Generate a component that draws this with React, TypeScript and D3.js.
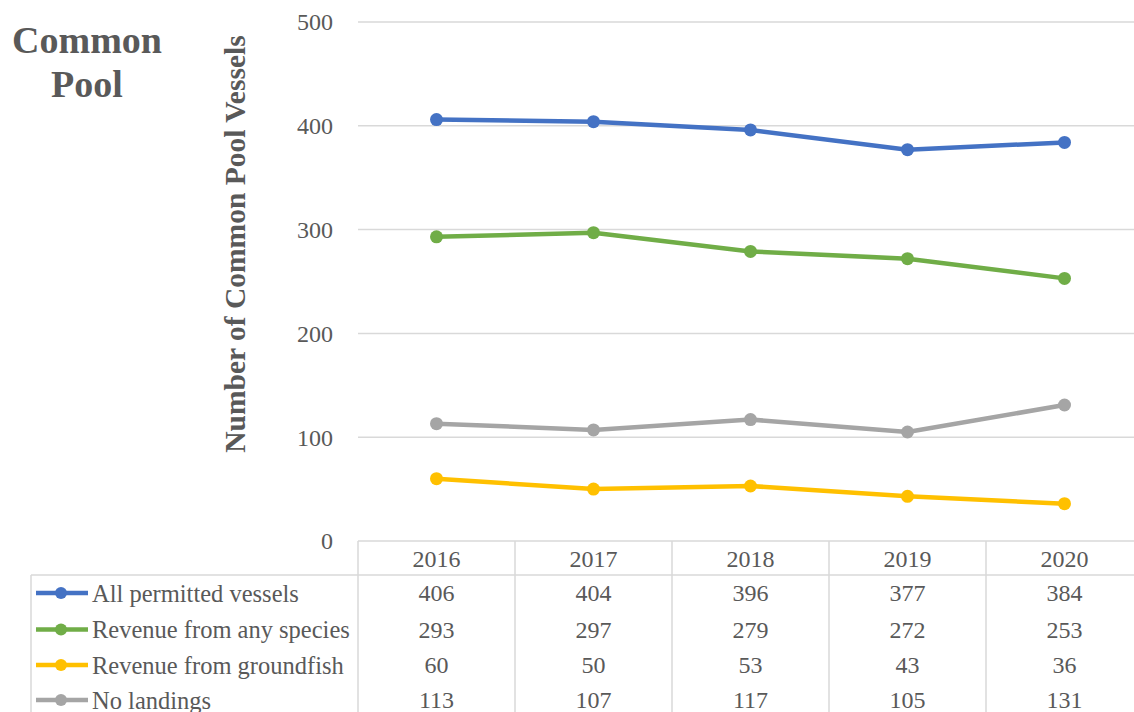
import React from "react";
import * as d3 from "d3";

const years = ["2016", "2017", "2018", "2019", "2020"];
const seriesNames = [
  "All permitted vessels",
  "Revenue from any species",
  "Revenue from groundfish",
  "No landings",
];
const allPermitted = [406, 404, 396, 377, 384];
const revenueAny = [293, 297, 279, 272, 253];
const revenueGroundfish = [60, 50, 53, 43, 36];
const noLandings = [113, 107, 117, 105, 131];
const seriesColors = ["#4472C4", "#70AD47", "#FFC000", "#A5A5A5"];
const yTicks = [0, 100, 200, 300, 400, 500];

const W = 1134;
const H = 712;
const FONT = "'Liberation Serif', 'Times New Roman', serif";
const TEXT = "#595959";
const GRID = "#d9d9d9";

export default function App() {
  const series = [allPermitted, revenueAny, revenueGroundfish, noLandings];
  const x = d3.scaleBand<string>().domain(years).range([358, 1143]).padding(0);
  const cx = (yr: string) => (x(yr) as number) + x.bandwidth() / 2;
  const y = d3.scaleLinear().domain([0, 500]).range([541, 22]);
  const line = d3
    .line<number>()
    .x((_, i) => cx(years[i]))
    .y((d) => y(d));

  const headerTop = y(0);
  const rowTop = 575;
  const headerMid = (headerTop + rowTop) / 2 + 1;
  const rowMids = [593, 629.5, 665, 700];

  return (
    <svg
      width={W}
      height={H}
      style={{ position: "absolute", left: 0, top: 0, background: "#fff" }}
      fontFamily={FONT}
    >
      {/* panel title */}
      <text x={87} y={53} textAnchor="middle" fontSize={38} fontWeight="bold" fill={TEXT}>
        Common
      </text>
      <text x={87} y={97} textAnchor="middle" fontSize={38} fontWeight="bold" fill={TEXT}>
        Pool
      </text>

      {/* y axis title */}
      <text
        transform={`translate(245, 244) rotate(-90)`}
        textAnchor="middle"
        fontSize={29.5}
        fontWeight="bold"
        fill={TEXT}
      >
        Number of Common  Pool Vessels
      </text>

      {/* gridlines and tick labels */}
      {yTicks.map((t) => (
        <g key={t}>
          {t > 0 && (
            <line x1={358} x2={W} y1={y(t)} y2={y(t)} stroke={GRID} strokeWidth={1.5} />
          )}
          <text
            x={333}
            y={y(t)}
            dy="0.35em"
            textAnchor="end"
            fontSize={24}
            fill={TEXT}
          >
            {t}
          </text>
        </g>
      ))}

      {/* data table grid */}
      <line x1={358} x2={W} y1={headerTop} y2={headerTop} stroke={GRID} strokeWidth={1.5} />
      <line x1={31} x2={W} y1={rowTop} y2={rowTop} stroke={GRID} strokeWidth={1.5} />
      <line x1={31} x2={31} y1={rowTop} y2={H} stroke={GRID} strokeWidth={1.5} />
      {years.map((yr) => (
        <line
          key={yr}
          x1={x(yr) as number}
          x2={x(yr) as number}
          y1={headerTop}
          y2={H}
          stroke={GRID}
          strokeWidth={1.5}
        />
      ))}
      {years.map((yr) => (
        <text
          key={yr}
          x={cx(yr)}
          y={headerMid}
          dy="0.35em"
          textAnchor="middle"
          fontSize={24}
          fill={TEXT}
        >
          {yr}
        </text>
      ))}

      {/* table rows: legend key, name and values */}
      {series.map((vals, si) => (
        <g key={si}>
          <line
            x1={36}
            x2={88}
            y1={rowMids[si]}
            y2={rowMids[si]}
            stroke={seriesColors[si]}
            strokeWidth={4.5}
          />
          <circle cx={61} cy={rowMids[si]} r={6} fill={seriesColors[si]} />
          <text x={92} y={rowMids[si]} dy="0.35em" fontSize={24.5} fill={TEXT}>
            {seriesNames[si]}
          </text>
          {vals.map((v, i) => (
            <text
              key={i}
              x={cx(years[i])}
              y={rowMids[si]}
              dy="0.35em"
              textAnchor="middle"
              fontSize={24}
              fill={TEXT}
            >
              {v}
            </text>
          ))}
        </g>
      ))}

      {/* series lines with markers */}
      {series.map((vals, si) => (
        <g key={si}>
          <path
            d={line(vals) as string}
            fill="none"
            stroke={seriesColors[si]}
            strokeWidth={4.5}
            strokeLinejoin="round"
            strokeLinecap="round"
          />
          {vals.map((v, i) => (
            <circle key={i} cx={cx(years[i])} cy={y(v)} r={6.5} fill={seriesColors[si]} />
          ))}
        </g>
      ))}
    </svg>
  );
}
